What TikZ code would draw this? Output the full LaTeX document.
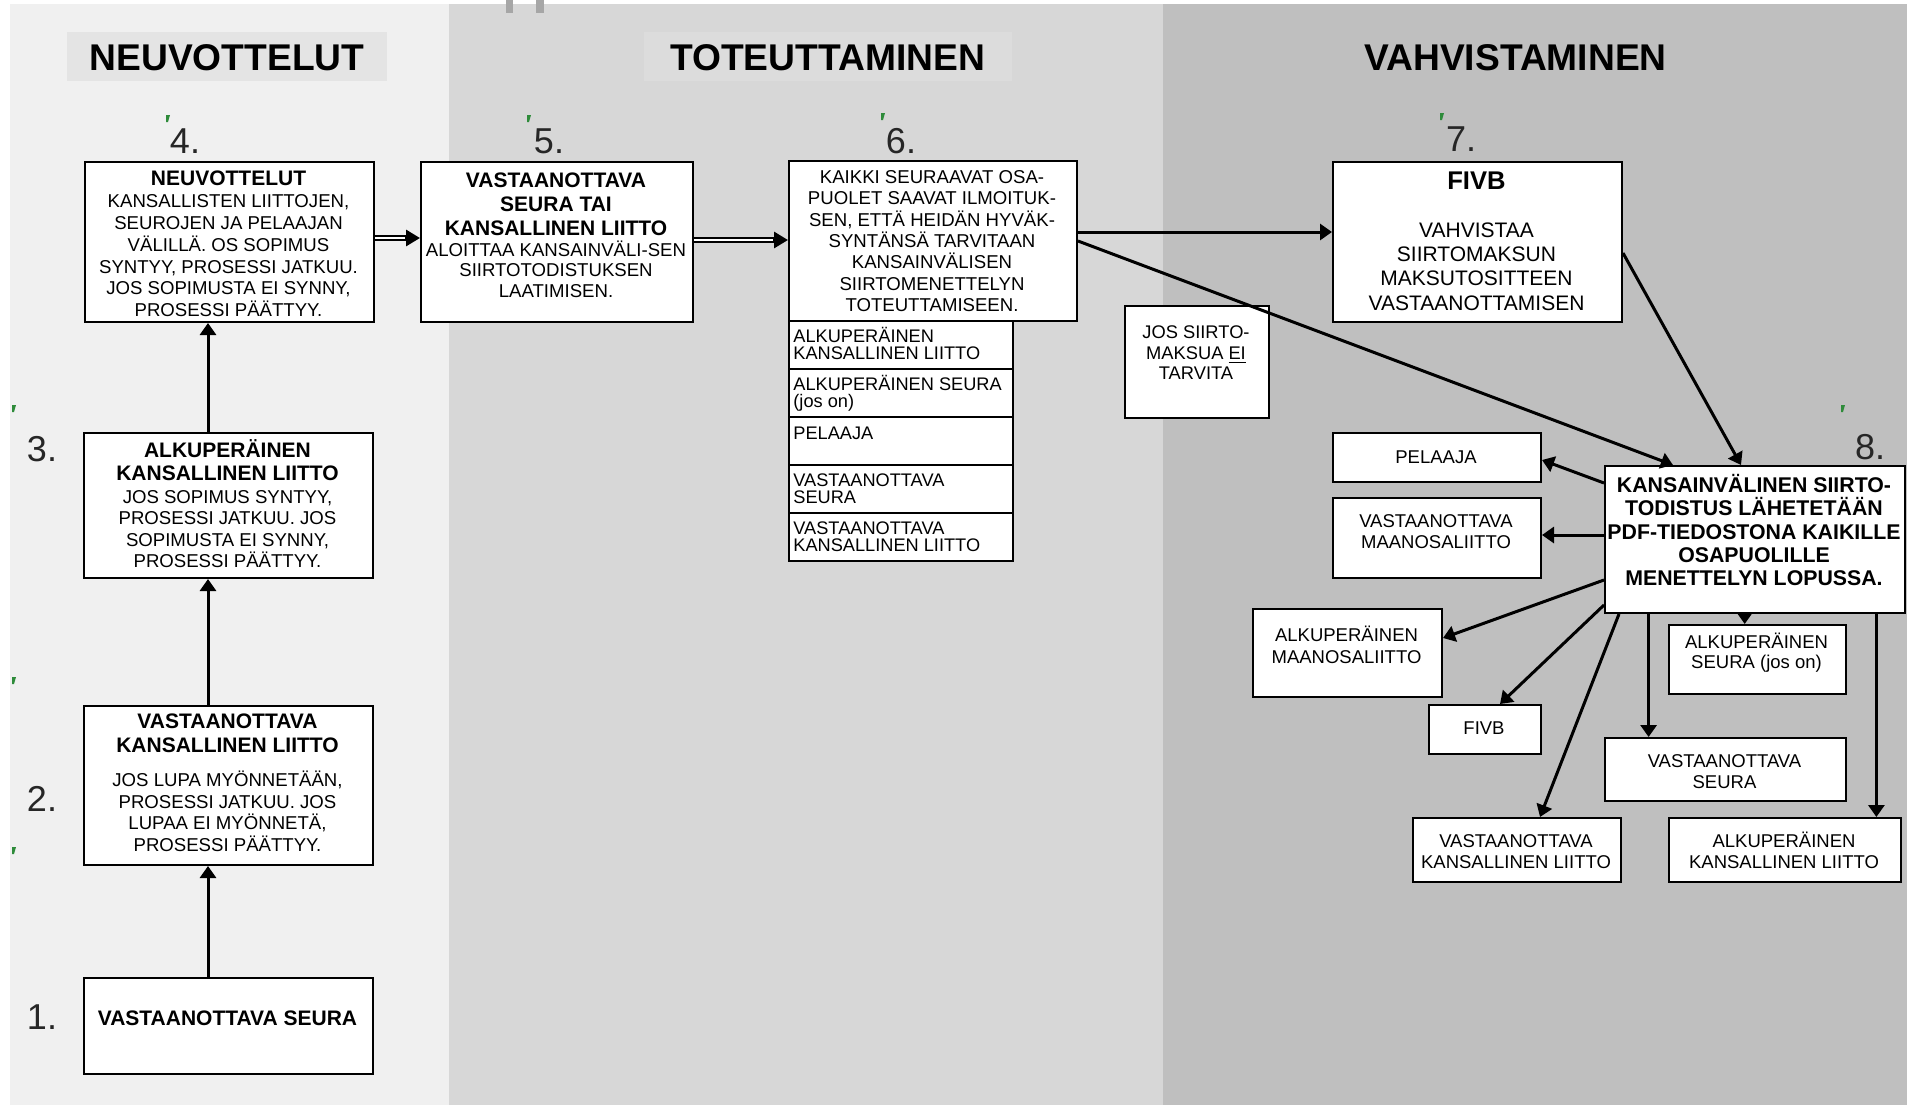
\documentclass[tikz,border=0pt]{standalone}
\usepackage{fontspec}
\setmainfont{Liberation Sans}
\usetikzlibrary{arrows.meta,calc}
\newcommand\fsz[2]{\fontsize{#1}{#2}\selectfont}
\definecolor{pA}{HTML}{F0F0F0}
\definecolor{pB}{HTML}{D7D7D7}
\definecolor{pC}{HTML}{BFBFBF}
\definecolor{hA}{HTML}{E4E4E4}
\definecolor{hB}{HTML}{DCDCDC}
\definecolor{tickc}{HTML}{2E8B3A}
\begin{document}
\begin{tikzpicture}[x=0.5pt,y=-0.5pt,
  box/.style={draw=black,line width=1pt,fill=white,inner sep=0pt,anchor=north west},
  sz/.style 2 args={minimum width=#1*0.5pt,minimum height=#2*0.5pt},
  txt/.style={inner sep=0pt,anchor=base},
  lt/.style={inner sep=0pt,anchor=base west},
  num/.style={inner sep=0pt,anchor=center,text=black!85,font=\fsz{18}{20}},
  head/.style={inner sep=0pt,anchor=center,font=\bfseries\fsz{18.6}{20}},
  arr/.style={line width=1.5pt,-{Triangle[length=6pt,width=8pt]}},
  tip/.style={line width=1.5pt,-{Triangle[length=7pt,width=8pt]}},
  dbl/.style={draw=black,line width=1.1pt,double=white,double distance=0.8pt,shorten >=6pt},
  tick/.style={fill=tickc}]
\useasboundingbox (0,0) rectangle (1907,1105);
\fill[white] (0,0) rectangle (1907,1105);
% panels
\fill[pA] (10,4) rectangle (449,1105);
\fill[pB] (449,4) rectangle (1163,1105);
\fill[pC] (1163,4) rectangle (1907,1105);
\fill[gray!70] (506,0) rectangle (513,13);
\fill[gray!70] (536,0) rectangle (544,13);
% header backgrounds
\fill[hA] (67,32) rectangle (387,81);
\fill[hB] (644,32) rectangle (1012,81);
\node[head] (h1) at (227,58) {NEUVOTTELUT};
\node[head] (h2) at (827.5,58) {TOTEUTTAMINEN};
\node[head] (h3) at (1515.5,58) {VAHVISTAMINEN};
% green ticks
\foreach \tx/\ty in {166/115,527/115,881/113,1440/113,1841/405,12/405,12/677,12/847}
  \fill[tick] (\tx,\ty) -- ++(4,0) -- ++(-2,7) -- ++(-2,0) -- cycle;
% numbers
\node[num] (k1) at (42,1017) {1.};
\node[num] (k2) at (42,799) {2.};
\node[num] (k3) at (42,449) {3.};
\node[num] (k4) at (185,141) {4.};
\node[num] (k5) at (549,141) {5.};
\node[num] (k6) at (901,141) {6.};
\node[num] (k7) at (1461,139) {7.};
\node[num] (k8) at (1870,447) {8.};
% left column boxes
\node[box,sz={289}{96}] (n1) at (83,977) {};
\node[box,sz={289}{159}] (n2) at (83,705) {};
\node[box,sz={289}{145}] (n3) at (83,432) {};
\node[box,sz={289}{160}] (n4) at (84,161) {};
\node[txt] (t1) at (227.5,1025.5) {\bfseries\fsz{10.5}{12}VASTAANOTTAVA SEURA};
\node[txt] (t2) at (227.5,728) {\parbox[t]{165pt}{\centering
  {\bfseries\fsz{10.5}{12.35}VASTAANOTTAVA\\KANSALLINEN LIITTO\par}\vskip6.15pt
  \fsz{9.3}{10.75}JOS LUPA MYÖNNETÄÄN,\\PROSESSI JATKUU. JOS\\LUPAA EI MYÖNNETÄ,\\PROSESSI PÄÄTTYY.\par}};
\node[txt] (t3) at (227.5,457) {\parbox[t]{165pt}{\centering
  {\bfseries\fsz{10.5}{11.9}ALKUPERÄINEN\\KANSALLINEN LIITTO\par}\vskip0.6pt
  \fsz{9.3}{10.7}JOS SOPIMUS SYNTYY,\\PROSESSI JATKUU. JOS\\SOPIMUSTA EI SYNNY,\\PROSESSI PÄÄTTYY.\par}};
\node[txt] (t4) at (228.5,185.5) {\parbox[t]{165pt}{\centering
  {\bfseries\fsz{10.5}{11.75}NEUVOTTELUT\par}\vskip0.35pt
  \fsz{9.3}{10.85}KANSALLISTEN LIITTOJEN,\\SEUROJEN JA PELAAJAN\\VÄLILLÄ. OS SOPIMUS\\SYNTYY, PROSESSI JATKUU.\\JOS SOPIMUSTA EI SYNNY,\\PROSESSI PÄÄTTYY.\par}};
% box 5
\node[box,sz={272}{160}] (n5) at (420,161) {};
\node[txt] (t5) at (556,187.5) {\parbox[t]{160pt}{\centering
  {\bfseries\fsz{10.5}{11.9}VASTAANOTTAVA\\SEURA TAI\\KANSALLINEN LIITTO\par}\vskip0.5pt
  \fsz{9.3}{10.2}ALOITTAA KANSAINVÄLI-SEN\\SIIRTOTODISTUKSEN\\LAATIMISEN.\par}};
% box 6 and list
\node[box,sz={288}{160}] (n6) at (788,160) {};
\node[txt] (t6) at (932,183.35) {\parbox[t]{165pt}{\centering
  \fsz{9.3}{10.7}KAIKKI SEURAAVAT OSA-\\PUOLET SAAVAT ILMOITUK-\\SEN, ETTÄ HEIDÄN HYVÄK-\\SYNTÄNSÄ TARVITAAN\\KANSAINVÄLISEN\\SIIRTOMENETTELYN\\TOTEUTTAMISEEN.\par}};
\node[box,sz={224}{48}] (r1) at (788,320) {};
\node[box,sz={224}{48}] (r2) at (788,368) {};
\node[box,sz={224}{48}] (r3) at (788,416) {};
\node[box,sz={224}{48}] (r4) at (788,464) {};
\node[box,sz={224}{48}] (r5) at (788,512) {};
\node[lt] (q1) at (793,342) {\parbox[t]{115pt}{\raggedright\fsz{9.1}{8.75}ALKUPERÄINEN\\KANSALLINEN LIITTO\par}};
\node[lt] (q2) at (793,390) {\parbox[t]{115pt}{\raggedright\fsz{9.1}{8.75}ALKUPERÄINEN SEURA\\(jos on)\par}};
\node[lt] (q3) at (793,439) {\parbox[t]{115pt}{\raggedright\fsz{9.1}{8.75}PELAAJA\par}};
\node[lt] (q4) at (793,486) {\parbox[t]{115pt}{\raggedright\fsz{9.1}{8.75}VASTAANOTTAVA\\SEURA\par}};
\node[lt] (q5) at (793,534) {\parbox[t]{115pt}{\raggedright\fsz{9.1}{8.75}VASTAANOTTAVA\\KANSALLINEN LIITTO\par}};
% box 7
\node[box,sz={289}{160}] (n7) at (1332,161) {};
\node[txt] (t7) at (1476.5,189.9) {\parbox[t]{160pt}{\centering
  {\bfseries\fsz{12.8}{14}FIVB\par}\vskip11.7pt
  \fsz{10.5}{12.1}VAHVISTAA\\SIIRTOMAKSUN\\MAKSUTOSITTEEN\\VASTAANOTTAMISEN\par}};
% JOS box
\node[box,sz={144}{112}] (nj) at (1124,305) {};
\node[txt] (tj) at (1196,338.35) {\parbox[t]{80pt}{\centering
  \fsz{9.15}{10.4}JOS SIIRTO-\\MAKSUA \underline{EI}\\TARVITA\par}};
% box 8
\node[box,sz={300}{147}] (n8) at (1604,465) {};
\node[txt] (t8) at (1754,492.6) {\parbox[t]{160pt}{\centering
  \bfseries\fsz{10.65}{11.6}KANSAINVÄLINEN SIIRTO-\\TODISTUS LÄHETETÄÄN\\PDF-TIEDOSTONA KAIKILLE\\OSAPUOLILLE\\MENETTELYN LOPUSSA.\par}};
% recipients
\node[box,sz={208}{49}] (pel) at (1332,432) {};
\node[box,sz={208}{80}] (vmaa) at (1332,497) {};
\node[box,sz={189}{88}] (amaa) at (1252,608) {};
\node[box,sz={112}{49}] (fivb2) at (1428,704) {};
\node[box,sz={208}{64}] (vkl) at (1412,817) {};
\node[box,sz={177}{69}] (aseura) at (1668,624) {};
\node[box,sz={241}{63}] (vseura) at (1604,737) {};
\node[box,sz={232}{64}] (akl) at (1668,817) {};
\tikzset{rt/.style={txt,font=\fsz{9.25}{10.5},align=center}}
\node[rt] (tp) at (1436,463.3) {PELAAJA};
\node[txt] (tvm) at (1436,527.3) {\parbox[t]{110pt}{\centering\fsz{9.25}{10.5}VASTAANOTTAVA\\MAANOSALIITTO\par}};
\node[txt] (tam) at (1346.5,641.6) {\parbox[t]{100pt}{\centering\fsz{9.25}{10.8}ALKUPERÄINEN\\MAANOSALIITTO\par}};
\node[rt] (tf) at (1484,734.9) {FIVB};
\node[txt] (tvk) at (1516,847.3) {\parbox[t]{110pt}{\centering\fsz{9.25}{10.5}VASTAANOTTAVA\\KANSALLINEN LIITTO\par}};
\node[txt] (tas) at (1756.5,648.3) {\parbox[t]{100pt}{\centering\fsz{9.25}{10}ALKUPERÄINEN\\SEURA (jos on)\par}};
\node[txt] (tvs) at (1724.5,767.3) {\parbox[t]{110pt}{\centering\fsz{9.25}{10.5}VASTAANOTTAVA\\SEURA\par}};
\node[txt] (tak) at (1784,847.3) {\parbox[t]{120pt}{\centering\fsz{9.25}{10.5}ALKUPERÄINEN\\KANSALLINEN LIITTO\par}};
% helper coordinates
\coordinate (ax) at (208,0);
\coordinate (y238) at (0,238);
\coordinate (y240) at (0,240);
\coordinate (y232) at (0,232);
\coordinate (y253) at (0,253);
\coordinate (x68) at (1673,0);
\coordinate (x78) at (1741,0);
\coordinate (y483) at (0,483);
\coordinate (y460) at (0,460);
\coordinate (y535) at (0,535);
\coordinate (y580) at (0,580);
\coordinate (y638) at (0,638);
\coordinate (y605) at (0,605);
\coordinate (x1500) at (1500,0);
\coordinate (x1619) at (1619,0);
\coordinate (x1540) at (1540,0);
\coordinate (xvs) at (1648.6,0);
\coordinate (xas) at (1744.7,0);
\coordinate (xak) at (1876.4,0);
% connectors
\draw[arr] (n1.north -| ax) -- (n2.south -| ax);
\draw[arr] (n2.north -| ax) -- (n3.south -| ax);
\draw[arr] (n3.north -| ax) -- (n4.south -| ax);
\draw[dbl] (n4.east |- y238) -- (n5.west |- y238);
\draw[tip] ($(n5.west |- y238)+(-15,0)$) -- (n5.west |- y238);
\draw[dbl] (n5.east |- y240) -- (n6.west |- y240);
\draw[tip] ($(n6.west |- y240)+(-15,0)$) -- (n6.west |- y240);
\draw[arr] (n6.east |- y232) -- (n7.west |- y232);
\draw[arr] (n6.east) -- (n8.north -| x68);
\draw[arr] (n7.east |- y253) -- (n8.north -| x78);
\draw[arr] (n8.west |- y483) -- (pel.east |- y460);
\draw[arr] (n8.west |- y535) -- (vmaa.east |- y535);
\draw[arr] (n8.west |- y580) -- (amaa.east |- y638);
\draw[arr] (n8.west |- y605) -- (fivb2.north -| x1500);
\draw[arr] (n8.south -| x1619) -- (vkl.north -| x1540);
\draw[arr] (n8.south -| xvs) -- (vseura.north -| xvs);
\draw[arr] (n8.south -| xas) -- (aseura.north -| xas);
\draw[arr] (n8.south -| xak) -- (akl.north -| xak);
\end{tikzpicture}
\end{document}
